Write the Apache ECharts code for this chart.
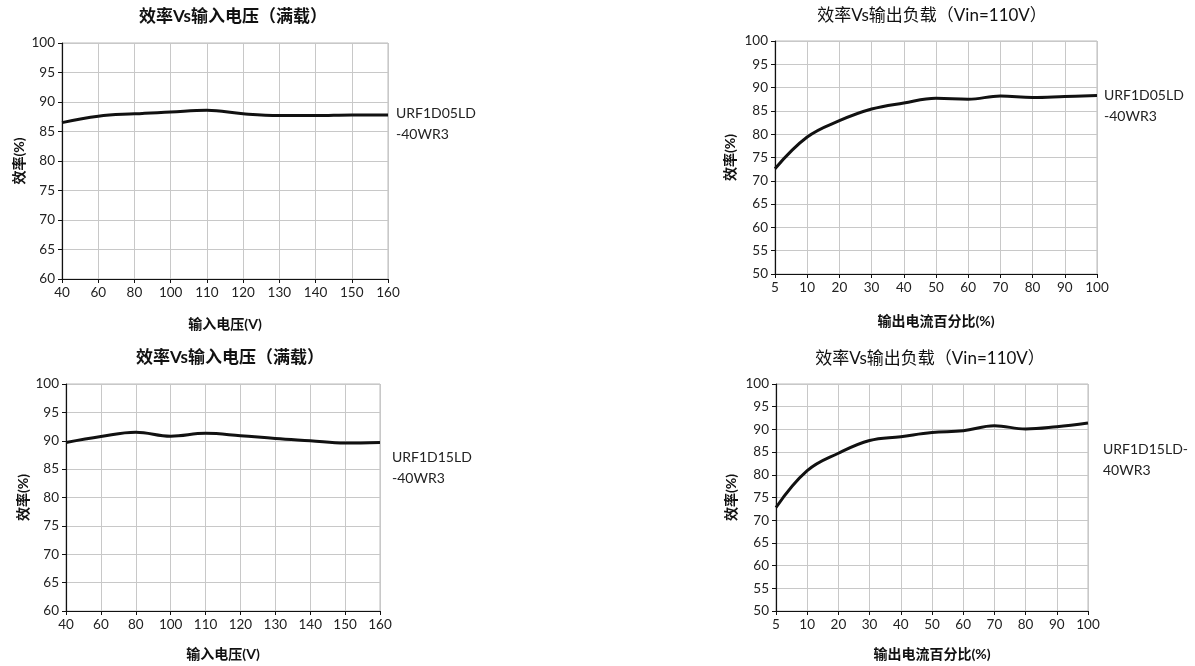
<!DOCTYPE html>
<html><head><meta charset="utf-8">
<script src="https://cdn.jsdelivr.net/npm/echarts@6/dist/echarts.min.js"></script>
<style>html,body{margin:0;padding:0;background:#fff}#c{width:1195px;height:666px}</style>
</head><body><div id="c"></div>
<script>
const vinCats = ['40','60','80','100','110','120','130','140','150','160'];
const loadCats = ['5','10','20','30','40','50','60','70','80','90','100'];
const eff05Vin = [86.5, 87.6, 88.0, 88.3, 88.6, 88.0, 87.7, 87.7, 87.8, 87.8];
const eff05Load = [72.6, 79.4, 82.9, 85.4, 86.7, 87.7, 87.5, 88.2, 87.9, 88.1, 88.3];
const eff15Vin = [89.7, 90.75, 91.5, 90.8, 91.3, 90.9, 90.4, 90.0, 89.6, 89.7];
const eff15Load = [72.8, 80.9, 84.75, 87.55, 88.4, 89.3, 89.7, 90.8, 90.1, 90.6, 91.4];
const titleVin = '效率Vs输入电压（满载）';
const titleLoad = '效率Vs输出负载（Vin=110V）';
const xNameVin = '输入电压(V)';
const xNameLoad = '输出电流百分比(%)';
const yName = '效率(%)';
const label05 = 'URF1D05LD\n-40WR3';
const label15a = 'URF1D15LD\n-40WR3';
const label15b = 'URF1D15LD-\n40WR3';

const FONT = "Lato, 'Noto Sans CJK SC', sans-serif";
const grids = [
  {left: 62, top: 43, width: 326, height: 236, show: true, borderColor: '#bbb', borderWidth: 1},
  {left: 775, top: 41, width: 322, height: 233, show: true, borderColor: '#bbb', borderWidth: 1},
  {left: 66, top: 384, width: 314, height: 227, show: true, borderColor: '#bbb', borderWidth: 1},
  {left: 776, top: 384, width: 312, height: 227, show: true, borderColor: '#bbb', borderWidth: 1}
];
function xAxis(i, cats, name, gap) {
  return {
    type: 'category', gridIndex: i, data: cats, boundaryGap: false,
    name: name, nameLocation: 'middle', nameGap: gap,
    nameTextStyle: {fontFamily: FONT, fontSize: 14, fontWeight: 'bold', color: '#111'},
    axisLine: {lineStyle: {color: '#111', width: 1.2}},
    axisTick: {show: true, length: 4, lineStyle: {color: '#111'}},
    axisLabel: {fontFamily: FONT, fontSize: 13.5, color: '#222', margin: 7, interval: 0},
    splitLine: {show: true, lineStyle: {color: '#c8c8c8', width: 1}}
  };
}
function yAxis(i, min, gap) {
  return {
    type: 'value', gridIndex: i, min: min, max: 100, interval: 5,
    name: yName, nameLocation: 'middle', nameGap: gap,
    nameTextStyle: {fontFamily: FONT, fontSize: 14, fontWeight: 'bold', color: '#111'},
    axisLine: {show: true, lineStyle: {color: '#111', width: 1.2}},
    axisTick: {show: true, length: 4, lineStyle: {color: '#111'}},
    axisLabel: {fontFamily: FONT, fontSize: 13.5, color: '#222', margin: 7},
    splitLine: {show: true, lineStyle: {color: '#c8c8c8', width: 1}}
  };
}
function series(i, data) {
  return {type: 'line', xAxisIndex: i, yAxisIndex: i, data: data, smooth: 0.4,
    symbol: 'none', lineStyle: {color: '#111', width: 3}, silent: true};
}
function txt(x, y, s, opt) {
  return {type: 'text', x: x, y: y, silent: true,
    style: Object.assign({text: s, fontFamily: FONT, fontSize: 14, fill: '#222', lineHeight: 21, textAlign: 'left', textVerticalAlign: 'top'}, opt || {})};
}
const option = {
  animation: false,
  backgroundColor: '#fff',
  grid: grids,
  xAxis: [xAxis(0, vinCats, xNameVin, 38), xAxis(1, loadCats, xNameLoad, 40), xAxis(2, vinCats, xNameVin, 36), xAxis(3, loadCats, xNameLoad, 36)],
  yAxis: [yAxis(0, 60, 36), yAxis(1, 50, 38), yAxis(2, 60, 36), yAxis(3, 50, 38)],
  series: [series(0, eff05Vin), series(1, eff05Load), series(2, eff15Vin), series(3, eff15Load)],
  graphic: [
    txt(233, 17, titleVin, {fontSize: 17, fontWeight: 'bold', fill: '#111', textAlign: 'center', textVerticalAlign: 'middle'}),
    txt(932, 16, titleLoad, {fontSize: 17, fill: '#111', textAlign: 'center', textVerticalAlign: 'middle'}),
    txt(230, 358, titleVin, {fontSize: 17, fontWeight: 'bold', fill: '#111', textAlign: 'center', textVerticalAlign: 'middle'}),
    txt(930, 359, titleLoad, {fontSize: 17, fill: '#111', textAlign: 'center', textVerticalAlign: 'middle'}),
    txt(396, 103, label05),
    txt(1104, 85, label05),
    txt(392, 447, label15a),
    txt(1103, 439, label15b)
  ]
};
echarts.init(document.getElementById('c')).setOption(option);
</script></body></html>
